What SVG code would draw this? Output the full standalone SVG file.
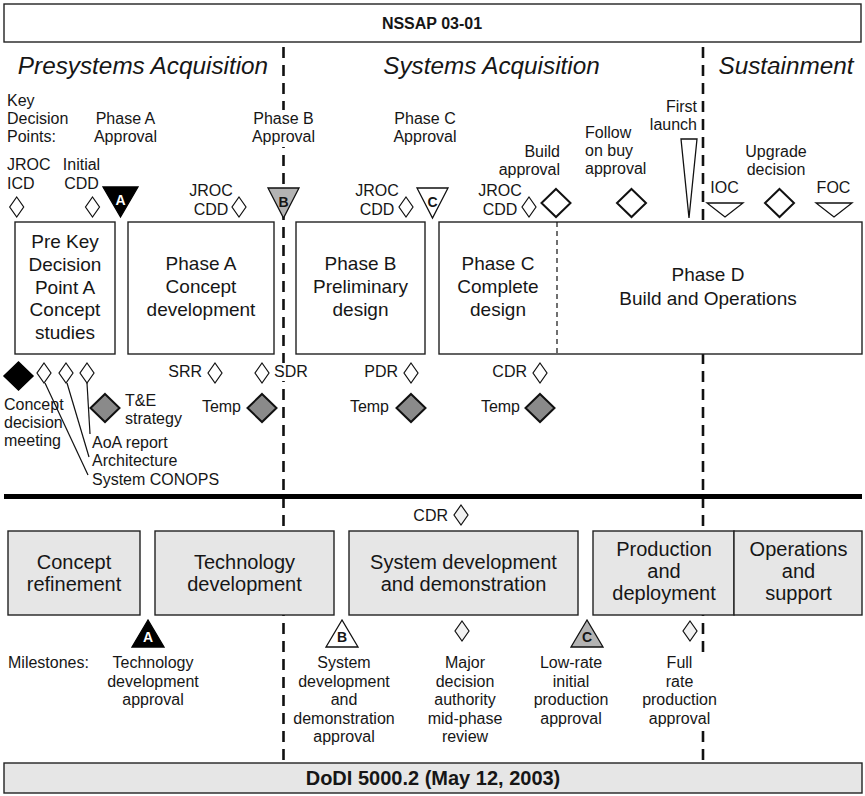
<svg xmlns="http://www.w3.org/2000/svg" xmlns:xlink="http://www.w3.org/1999/xlink" width="865" height="796" viewBox="0 0 865 796">
<style>
text { font-family: "Liberation Sans", Arial, sans-serif; fill: #161616; font-size: 16px; }
.m { text-anchor: middle; }
.e { text-anchor: end; }
.bx { font-size: 19px; }
.gx { font-size: 20px; }
.hd { font-style: italic; font-size: 24.3px; }
.ttl { font-weight: bold; font-size: 16px; }
.ttl2 { font-weight: bold; font-size: 20px; }
.ltr { font-weight: bold; font-size: 14px; text-anchor: middle; }
.box { fill: #fff; stroke: #222; stroke-width: 1.4; }
.gbox { fill: #e6e6e6; stroke: #222; stroke-width: 1.4; }
.div { stroke: #111; stroke-width: 2.6; stroke-dasharray: 11 7; fill: none; }
.sd { fill: #fff; stroke: #111; stroke-width: 1.2; }
.sdl { fill: #f2f2f2; stroke: #111; stroke-width: 1.2; }
.ld { fill: #fff; stroke: #111; stroke-width: 2; }
.gd { fill: #8a8a8a; stroke: #111; stroke-width: 2; }
.bd { fill: #000; stroke: #000; stroke-width: 1.5; }
.tri { stroke: #111; stroke-width: 1.3; }
.lead { stroke: #111; stroke-width: 1.2; fill: none; }
</style>
<defs>
<path id="small" d="M0,-10 L7,0 L0,10 L-7,0Z"/>
<path id="large" d="M0,-14 L14.5,0 L0,14 L-14.5,0Z"/>
</defs>

<g id="dividers">
<line class="div" x1="283.5" y1="47" x2="283.5" y2="763"/>
<line class="div" x1="703" y1="47" x2="703" y2="763"/>
</g>

<g id="title-top">
<rect x="4" y="4" width="857" height="38" class="box"/>
<text x="432" y="29" class="m ttl">NSSAP 03-01</text>
</g>

<g id="headings">
<text x="143" y="74" class="m hd">Presystems Acquisition</text>
<text x="491.5" y="74" class="m hd">Systems Acquisition</text>
<text x="786" y="74" class="m hd">Sustainment</text>
</g>

<g id="kdp-label">
<text x="7" y="106">Key</text>
<text x="7" y="124">Decision</text>
<text x="7" y="142">Points:</text>
</g>
<g id="kdp-a">
<text x="125.5" y="124" class="m">Phase A</text>
<text x="125.5" y="142" class="m">Approval</text>
<polygon points="103,187 138,187 120.5,217" fill="#000" stroke="#000" stroke-width="1.3"/>
<text x="120.5" y="205" class="ltr" style="fill:#fff">A</text>
</g>
<g id="kdp-b">
<rect x="251" y="110" width="66" height="37" fill="#fff"/>
<text x="283.5" y="124" class="m">Phase B</text>
<text x="283.5" y="142" class="m">Approval</text>
<polygon points="268,188 299,188 283.5,218" fill="#b3b3b3" class="tri"/>
<text x="283.5" y="207" class="ltr">B</text>
</g>
<g id="kdp-c">
<text x="425" y="124" class="m">Phase C</text>
<text x="425" y="142" class="m">Approval</text>
<polygon points="417,188 448,188 432.5,218" fill="#fff" class="tri"/>
<text x="432.5" y="207" class="ltr">C</text>
</g>
<g id="jroc-icd">
<text x="7" y="170">JROC</text>
<text x="7" y="189">ICD</text>
<use xlink:href="#small" href="#small" x="16.7" y="207" class="sd"/>
</g>
<g id="initial-cdd">
<text x="81.5" y="170" class="m">Initial</text>
<text x="81.5" y="189" class="m">CDD</text>
<use xlink:href="#small" href="#small" x="92.5" y="207" class="sd"/>
</g>
<g id="jroc-cdd-a">
<text x="211" y="196" class="m">JROC</text>
<text x="211" y="215" class="m">CDD</text>
<use xlink:href="#small" href="#small" x="239" y="207" class="sd"/>
</g>
<g id="jroc-cdd-b">
<text x="377" y="196" class="m">JROC</text>
<text x="377" y="215" class="m">CDD</text>
<use xlink:href="#small" href="#small" x="406" y="207" class="sd"/>
</g>
<g id="jroc-cdd-c">
<text x="500" y="196" class="m">JROC</text>
<text x="500" y="215" class="m">CDD</text>
<use xlink:href="#small" href="#small" x="529" y="207" class="sd"/>
</g>
<g id="build-approval">
<text x="560" y="157" class="e">Build</text>
<text x="560" y="175" class="e">approval</text>
<use xlink:href="#large" href="#large" x="556" y="203" class="ld"/>
</g>
<g id="follow-on">
<text x="585" y="138">Follow</text>
<text x="585" y="156">on buy</text>
<text x="585" y="174">approval</text>
<use xlink:href="#large" href="#large" x="631.5" y="203" class="ld"/>
</g>
<g id="first-launch">
<text x="697" y="112" class="e">First</text>
<text x="697" y="130" class="e">launch</text>
<polygon points="681,139 697,139 689,218" fill="#fff" class="tri"/>
</g>
<g id="ioc">
<text x="724.5" y="193" class="m">IOC</text>
<polygon points="707,203 743,203 725,217" fill="#fff" class="tri"/>
</g>
<g id="upgrade">
<text x="776" y="157" class="m">Upgrade</text>
<text x="776" y="175" class="m">decision</text>
<use xlink:href="#large" href="#large" x="779.5" y="203" class="ld"/>
</g>
<g id="foc">
<text x="833.5" y="193" class="m">FOC</text>
<polygon points="816,203 852,203 834,217" fill="#fff" class="tri"/>
</g>

<g id="pre-kdp-a">
<rect x="15" y="222" width="100" height="132" class="box"/>
<text x="65" y="248" class="m bx">Pre Key</text>
<text x="65" y="271" class="m bx">Decision</text>
<text x="65" y="293.5" class="m bx">Point A</text>
<text x="65" y="316" class="m bx">Concept</text>
<text x="65" y="339" class="m bx">studies</text>
</g>
<g id="phase-a">
<rect x="128" y="222" width="146" height="132" class="box"/>
<text x="201" y="270" class="m bx">Phase A</text>
<text x="201" y="293" class="m bx">Concept</text>
<text x="201" y="316" class="m bx">development</text>
</g>
<g id="phase-b">
<rect x="296" y="222" width="129" height="132" class="box"/>
<text x="360.5" y="270" class="m bx">Phase B</text>
<text x="360.5" y="293" class="m bx">Preliminary</text>
<text x="360.5" y="316" class="m bx">design</text>
</g>
<g id="phase-cd">
<rect x="439" y="222" width="423" height="132" class="box"/>
<line x1="557" y1="222" x2="557" y2="354" stroke="#111" stroke-width="1.2" stroke-dasharray="5 4"/>
<text x="498" y="270" class="m bx">Phase C</text>
<text x="498" y="293" class="m bx">Complete</text>
<text x="498" y="316" class="m bx">design</text>
<text x="708" y="281" class="m bx">Phase D</text>
<text x="708" y="305" class="m bx">Build and Operations</text>
</g>

<g id="connectors">
<line class="lead" x1="45" y1="383" x2="88" y2="475"/>
<line class="lead" x1="67" y1="383" x2="89" y2="457"/>
<line class="lead" x1="87" y1="383" x2="90" y2="434"/>
</g>
<g id="concept-decision">
<use xlink:href="#large" href="#large" x="18.5" y="376" class="bd"/>
<text x="4" y="410">Concept</text>
<text x="4" y="428">decision</text>
<text x="4" y="446">meeting</text>
</g>
<g id="system-conops">
<use xlink:href="#small" href="#small" x="44" y="373" class="sd"/>
<text x="92" y="485">System CONOPS</text>
</g>
<g id="architecture">
<use xlink:href="#small" href="#small" x="66" y="373" class="sd"/>
<text x="92" y="466">Architecture</text>
</g>
<g id="aoa-report">
<use xlink:href="#small" href="#small" x="87" y="373" class="sd"/>
<text x="92" y="448">AoA report</text>
</g>
<g id="te-strategy">
<use xlink:href="#large" href="#large" x="105" y="408" class="gd"/>
<text x="125" y="406">T&amp;E</text>
<text x="125" y="424">strategy</text>
</g>
<g id="srr">
<text x="202" y="377" class="e">SRR</text>
<use xlink:href="#small" href="#small" x="215" y="373" class="sd"/>
</g>
<g id="sdr">
<use xlink:href="#small" href="#small" x="262" y="373" class="sd"/>
<rect x="273" y="363" width="31" height="18" fill="#fff"/>
<text x="274" y="377">SDR</text>
</g>
<g id="temp-a">
<text x="241" y="412" class="e">Temp</text>
<use xlink:href="#large" href="#large" x="262" y="408" class="gd"/>
</g>
<g id="pdr">
<text x="398" y="377" class="e">PDR</text>
<use xlink:href="#small" href="#small" x="411" y="373" class="sd"/>
</g>
<g id="temp-b">
<text x="389" y="412" class="e">Temp</text>
<use xlink:href="#large" href="#large" x="411" y="408" class="gd"/>
</g>
<g id="cdr-top">
<text x="527" y="377" class="e">CDR</text>
<use xlink:href="#small" href="#small" x="540" y="373" class="sd"/>
</g>
<g id="temp-c">
<text x="520" y="412" class="e">Temp</text>
<use xlink:href="#large" href="#large" x="540" y="408" class="gd"/>
</g>

<g id="separator">
<line x1="4" y1="496.5" x2="862" y2="496.5" stroke="#000" stroke-width="5"/>
</g>

<g id="cdr-bottom">
<text x="448" y="521" class="e">CDR</text>
<use xlink:href="#small" href="#small" x="461" y="515" class="sdl"/>
</g>
<g id="concept-refinement">
<rect x="8" y="531" width="132" height="84" class="gbox"/>
<text x="74" y="568.5" class="m gx">Concept</text>
<text x="74" y="591" class="m gx">refinement</text>
</g>
<g id="technology-development">
<rect x="155" y="531" width="179" height="84" class="gbox"/>
<text x="244.5" y="568.5" class="m gx">Technology</text>
<text x="244.5" y="591" class="m gx">development</text>
</g>
<g id="system-development">
<rect x="349" y="531" width="229" height="84" class="gbox"/>
<text x="463.5" y="568.5" class="m gx">System development</text>
<text x="463.5" y="591" class="m gx">and demonstration</text>
</g>
<g id="production-deployment">
<rect x="593" y="531" width="141" height="84" class="gbox"/>
<text x="664" y="555.5" class="m gx">Production</text>
<text x="664" y="577.5" class="m gx">and</text>
<text x="664" y="599.5" class="m gx">deployment</text>
</g>
<g id="operations-support">
<rect x="734" y="531" width="128" height="84" class="gbox"/>
<text x="798.5" y="555.5" class="m gx">Operations</text>
<text x="798.5" y="577.5" class="m gx">and</text>
<text x="798.5" y="599.5" class="m gx">support</text>
</g>

<g id="milestones-label">
<text x="8" y="668">Milestones:</text>
</g>
<g id="milestone-a">
<polygon points="148,620 132,647 164,647" fill="#000" stroke="#000" stroke-width="1.3"/>
<text x="148" y="642" class="ltr" style="fill:#fff">A</text>
<text x="153" y="668" class="m">Technology</text>
<text x="153" y="686.5" class="m">development</text>
<text x="153" y="705" class="m">approval</text>
</g>
<g id="milestone-b">
<polygon points="342,620 326,647 358,647" fill="#fff" class="tri"/>
<text x="342" y="642" class="ltr">B</text>
<text x="344" y="668" class="m">System</text>
<text x="344" y="686.5" class="m">development</text>
<text x="344" y="705" class="m">and</text>
<text x="344" y="723.5" class="m">demonstration</text>
<text x="344" y="742" class="m">approval</text>
</g>
<g id="mid-phase-review">
<use xlink:href="#small" href="#small" x="462" y="631" class="sdl"/>
<text x="465" y="668" class="m">Major</text>
<text x="465" y="686.5" class="m">decision</text>
<text x="465" y="705" class="m">authority</text>
<text x="465" y="723.5" class="m">mid-phase</text>
<text x="465" y="742" class="m">review</text>
</g>
<g id="milestone-c">
<polygon points="587,620 571,647 603,647" fill="#b3b3b3" class="tri"/>
<text x="587" y="642" class="ltr">C</text>
<text x="571" y="668" class="m">Low-rate</text>
<text x="571" y="686.5" class="m">initial</text>
<text x="571" y="705" class="m">production</text>
<text x="571" y="723.5" class="m">approval</text>
</g>
<g id="full-rate">
<use xlink:href="#small" href="#small" x="690" y="631" class="sdl"/>
<rect x="636" y="655" width="86" height="74" fill="#fff"/>
<text x="679.5" y="668" class="m">Full</text>
<text x="679.5" y="686.5" class="m">rate</text>
<text x="679.5" y="705" class="m">production</text>
<text x="679.5" y="723.5" class="m">approval</text>
</g>

<g id="title-bottom">
<rect x="4" y="763" width="858" height="30" class="gbox"/>
<text x="433" y="785" class="m ttl2">DoDI 5000.2 (May 12, 2003)</text>
</g>
</svg>
